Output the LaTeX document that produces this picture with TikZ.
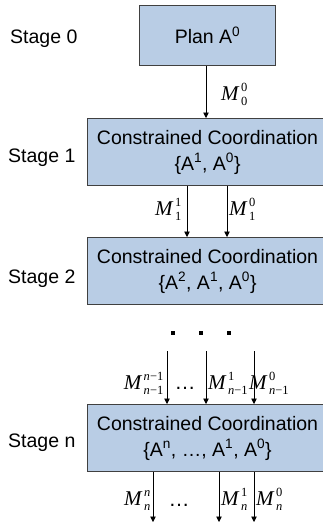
\documentclass[tikz,border=0pt]{standalone}
\usepackage{fontspec}
\setmainfont{Liberation Sans}
\newfontfamily\tms{Liberation Serif}
\usetikzlibrary{arrows.meta}
\definecolor{boxfill}{HTML}{B9CDE5}
\definecolor{boxline}{HTML}{404040}
\newcommand\scr[1]{\mbox{\tms\fontsize{12.5}{12.5}\selectfont #1}}
\newcommand\Mlab[2]{$\mbox{\tms\itshape M\/\kern1.5pt}^{\scr{#1}}_{\scr{#2}}$}
\newcommand\nn{\textit{n}}
\tikzset{
  box/.style={draw=boxline, line width=1.1pt, fill=boxfill, align=center,
    font=\fontsize{19.5}{26}\selectfont, inner sep=0pt},
  stagelbl/.style={anchor=base west, font=\fontsize{19.5}{23}\selectfont, inner sep=0pt},
  arr/.style={line width=0.7pt, -{Triangle[width=5.5pt,length=5.5pt]}},
  mlab/.style={inner sep=0pt, font=\fontsize{21}{23}\selectfont},
  dotsq/.style={fill=black, minimum size=4pt, inner sep=0pt},
}
\begin{document}
\begin{tikzpicture}[x=1pt,y=-1pt]
\useasboundingbox (0,0) rectangle (323,523);
% boxes
\node[box, minimum width=136pt, minimum height=60pt, anchor=north west] (b0) at (139,5) {Plan A\textsuperscript{0}};
\node[box, minimum width=240pt, minimum height=67pt, anchor=north west] (b1) at (87,118) {Constrained Coordination\\\{A\textsuperscript{1}, A\textsuperscript{0}\}};
\node[box, minimum width=240pt, minimum height=67pt, anchor=north west] (b2) at (87,237) {Constrained Coordination\\\{A\textsuperscript{2}, A\textsuperscript{1}, A\textsuperscript{0}\}};
\node[box, minimum width=240pt, minimum height=67pt, anchor=north west] (bn) at (87,404) {Constrained Coordination\\\{A\textsuperscript{n}, \dots, A\textsuperscript{1}, A\textsuperscript{0}\}};
% stage labels
\node[stagelbl] (s0) at (10,43) {Stage 0};
\node[stagelbl] (s1) at (8,162) {Stage 1};
\node[stagelbl] (s2) at (8,283) {Stage 2};
\node[stagelbl] (sn) at (8,447) {Stage n};
% stage 0 -> 1
\draw[arr] (b0.south -| 206,0) -- (b1.north -| 206,0);
\node[mlab, anchor=base west] (m00) at (221,100) {\Mlab{0}{0}};
% stage 1 -> 2
\draw[arr] (b1.south -| 187,0) -- (b2.north -| 187,0);
\draw[arr] (b1.south -| 227,0) -- (b2.north -| 227,0);
\node[mlab, anchor=base east] (m11) at (182,215) {\Mlab{1}{1}};
\node[mlab, anchor=base west] (m10) at (229,215) {\Mlab{0}{1}};
% dots
\node[dotsq] (d1) at (173,333) {};
\node[dotsq] (d2) at (201,333) {};
\node[dotsq] (d3) at (229,333) {};
% into stage n
\coordinate (t1) at (167,351);
\coordinate (t2) at (206,351);
\coordinate (t3) at (254,351);
\draw[arr] (t1) -- (bn.north -| t1);
\draw[arr] (t2) -- (bn.north -| t2);
\draw[arr] (t3) -- (bn.north -| t3);
\node[mlab, anchor=base east] (mn1a) at (164,389) {\Mlab{\nn−1}{\nn−1}};
\node[mlab, anchor=base] (dd1) at (185,389) {\dots};
\node[mlab, anchor=base west] (mn1b) at (208,389) {\Mlab{1}{\nn−1}};
\node[mlab, anchor=base west] (mn1c) at (249,389) {\Mlab{0}{\nn−1}};
% out of stage n
\coordinate (u1) at (153,522);
\coordinate (u2) at (219,522);
\coordinate (u3) at (254,522);
\draw[arr] (bn.south -| u1) -- (u1);
\draw[arr] (bn.south -| u2) -- (u2);
\draw[arr] (bn.south -| u3) -- (u3);
\node[mlab, anchor=base east] (mna) at (151,505) {\Mlab{\nn}{\nn}};
\node[mlab, anchor=base] (dd2) at (179,506) {\dots};
\node[mlab, anchor=base west] (mnb) at (221,505) {\Mlab{1}{\nn}};
\node[mlab, anchor=base west] (mnc) at (256,505) {\Mlab{0}{\nn}};
\end{tikzpicture}
\end{document}
